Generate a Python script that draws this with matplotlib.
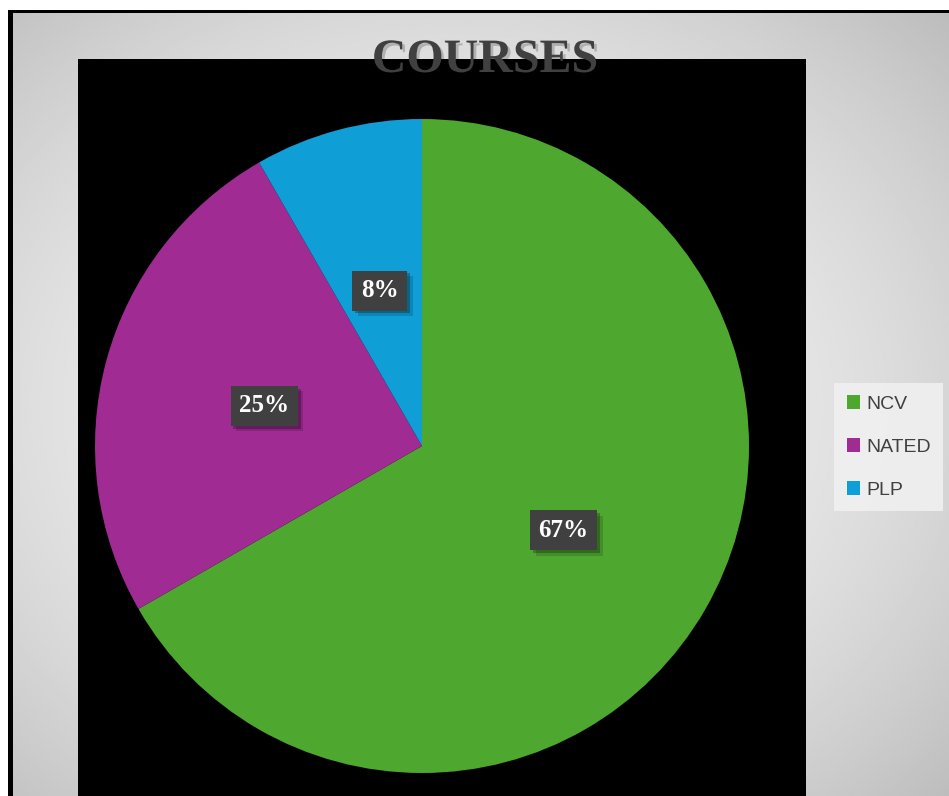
import matplotlib
matplotlib.use('Agg')
import matplotlib.pyplot as plt
import matplotlib.patheffects as pe
from matplotlib.patches import Rectangle
import numpy as np

courses = ['NCV', 'NATED', 'PLP']
shares = [66.7, 25.0, 8.3]
colors = ['#4EA72E', '#A02B93', '#0F9ED5']
title = 'COURSES'

W, H = 949, 796
fig = plt.figure(figsize=(W / 100, H / 100), dpi=100, facecolor='white')


def fx(px):
    return px / W


def fy(py):
    return 1 - py / H


# outer black frame line, then grey radial gradient panel
fig.patches.append(Rectangle((fx(8), -0.01), 1, fy(10) + 0.01, transform=fig.transFigure,
                             facecolor='black', edgecolor='none', zorder=-5))
bg = fig.add_axes([fx(13), -0.01, 1 - fx(13) + 0.01, fy(13) + 0.01], zorder=-4)
yy, xx = np.mgrid[-1:1:400j, -1:1:400j]
xx = xx + 0.08
d2 = xx ** 2 + yy ** 2
grad = 0.95 - 0.1 * d2
bg.imshow(grad, cmap='gray', vmin=0, vmax=1, aspect='auto', extent=[0, 1, 0, 1])
bg.set_axis_off()

# black plot area
plot_bg = fig.add_axes([fx(78), -0.01, fx(806) - fx(78), fy(59) + 0.01], zorder=-3)
plot_bg.set_facecolor('black')
plot_bg.set_xticks([])
plot_bg.set_yticks([])
for s in plot_bg.spines.values():
    s.set_visible(False)

# pie
cx, cy, r = 422, 446, 327
ax = fig.add_axes([fx(cx - r), fy(cy + r), 2 * r / W, 2 * r / H])
wedges, texts, autotexts = ax.pie(shares, colors=colors, startangle=90, counterclock=False,
                                  autopct='%1.0f%%', pctdistance=0.5, radius=1,
                                  wedgeprops=dict(linewidth=0))
ax.set_xlim(-1, 1)
ax.set_ylim(-1, 1)
ax.set_aspect('auto')
ax.set_axis_off()

for t in autotexts:
    t.set_fontfamily('Liberation Serif')
    t.set_fontweight('bold')
    t.set_fontsize(18)
    t.set_color('white')
    t.set_va('center_baseline')
    t.set_bbox(dict(boxstyle='square,pad=0.34', facecolor='#404040', edgecolor='none'))
    t.get_bbox_patch().set_path_effects([
        pe.SimplePatchShadow(offset=(4, -4), shadow_rgbFace='black', alpha=0.15),
        pe.SimplePatchShadow(offset=(2, -2), shadow_rgbFace='black', alpha=0.25),
        pe.Normal()])

# title
fig.text(fx(485), fy(60), title, ha='center', va='center',
         fontfamily='Liberation Serif', fontweight='bold', fontsize=34.5, color='#404040',
         path_effects=[pe.SimplePatchShadow(offset=(2, -2), shadow_rgbFace='black', alpha=0.2),
                       pe.Normal()])

# legend
leg = fig.legend(wedges, courses, loc='center left', bbox_to_anchor=(fx(834), fy(447)),
                 prop=dict(family='Liberation Sans', size=14), labelcolor='#404040',
                 frameon=True, facecolor='#f0f0f0', edgecolor='none', framealpha=0.9,
                 fancybox=False, handlelength=0.7, handleheight=0.7, handletextpad=0.3,
                 labelspacing=1.3, borderpad=0.65, borderaxespad=0)

fig.savefig('out.png', dpi=100, facecolor=fig.get_facecolor())
